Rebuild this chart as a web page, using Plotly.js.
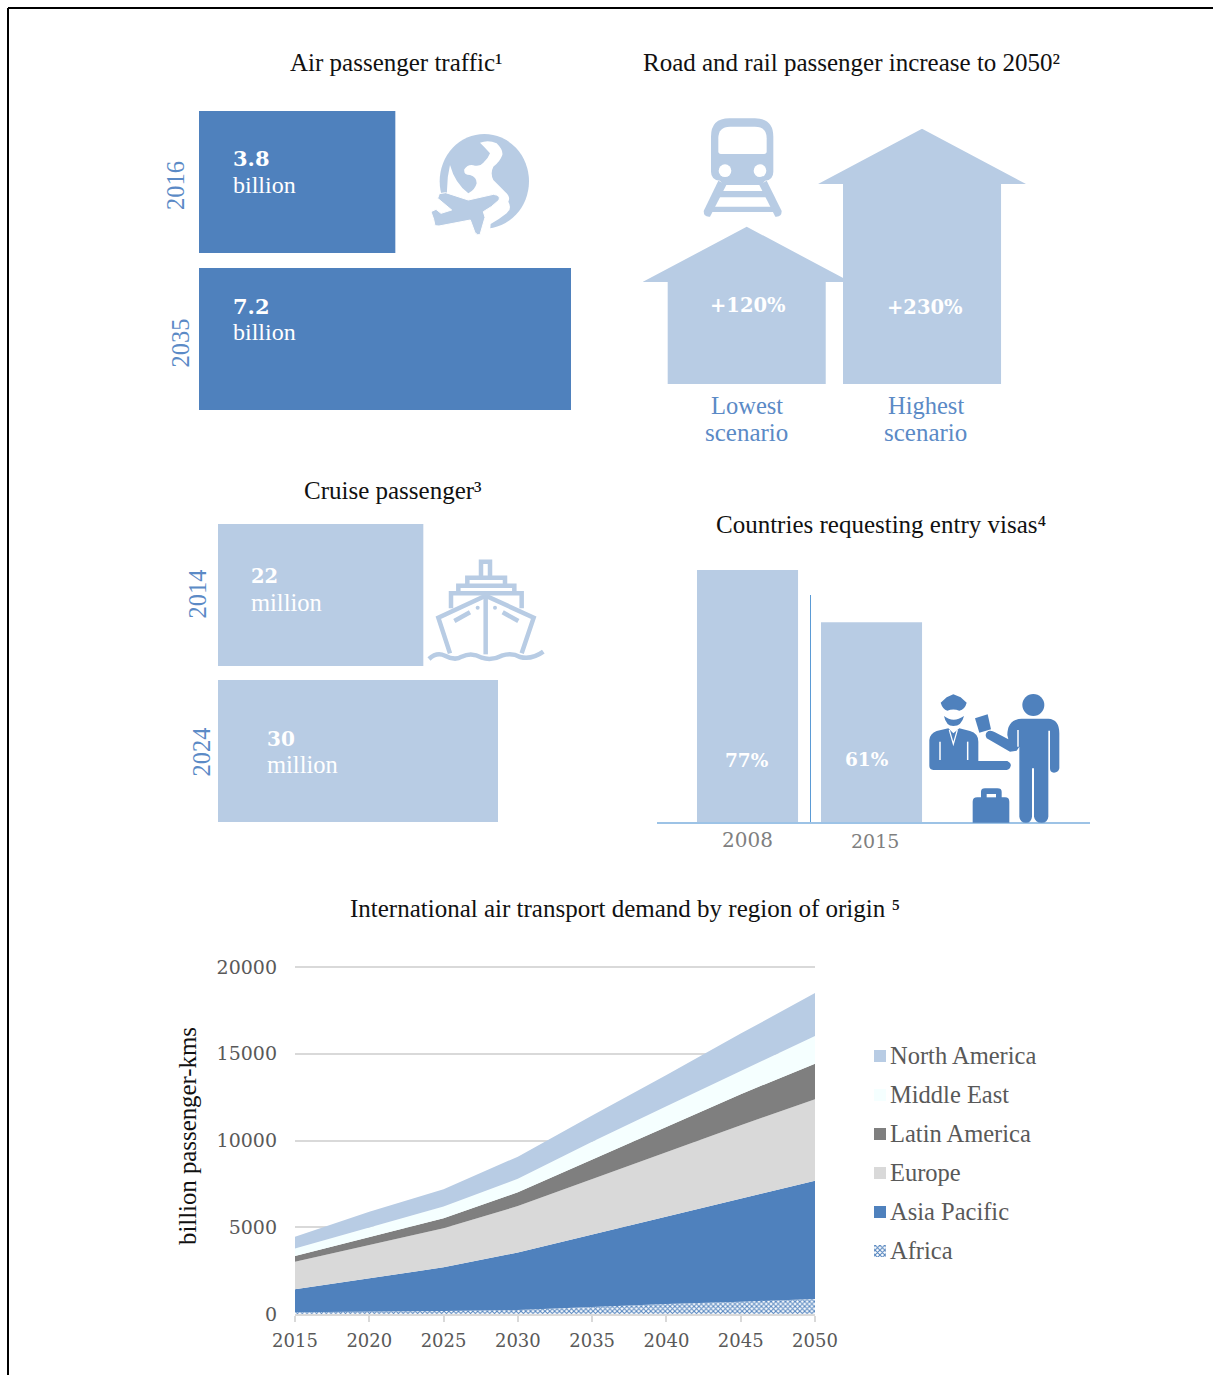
<!DOCTYPE html>
<html>
<head>
<meta charset="utf-8">
<title>Passenger transport outlook</title>
<script src="https://cdn.plot.ly/plotly-3.0.1.min.js"></script>
<style>html,body{margin:0;padding:0;background:#fff}</style>
</head>
<body>
<div id="chart" style="width:1213px;height:1375px"></div>
<script>
// ---- data ----
const airYears = ['2016', '2035'];
const airBillions = [3.8, 7.2];
const railScenarios = ['Lowest', 'Highest'];
const railIncrease = [120, 230];
const cruiseYears = ['2014', '2024'];
const cruiseMillions = [22, 30];
const visaYears = ['2008', '2015'];
const visaShare = [77, 61];
const demandYears = [2015, 2020, 2025, 2030, 2035, 2040, 2045, 2050];
const africa      = [100, 120, 170, 230, 420, 580, 710, 860];
const asiaPacific = [1320, 1915, 2520, 3320, 4170, 5030, 5930, 6820];
const europe      = [1590, 1960, 2250, 2670, 3190, 3740, 4240, 4700];
const latinAmerica = [330, 420, 580, 790, 1130, 1440, 1790, 2050];
const middleEast  = [440, 560, 670, 790, 1020, 1190, 1340, 1590];
const northAmerica = [670, 920, 1000, 1270, 1510, 1790, 2150, 2480];

// ---- palette and type ----
const W = 1213, H = 1375;
const BLUE = '#4f81bd', PALE = '#b8cce4', MINT = '#f5ffff', DARKGREY = '#7f7f7f', LIGHTGREY = '#d9d9d9';
const TEXT = '#595959', LABEL_BLUE = '#5b8ac6';
const SERIF = '"Liberation Serif", serif';
const NUM = '"DejaVu Serif", serif';

const domX = (a, b) => [a / W, b / W];
const domY = (top, bottom) => [1 - bottom / H, 1 - top / H];

const hiddenAxis = (domain, range, anchor, extra) => Object.assign({
  domain, range, anchor, visible: false, fixedrange: true
}, extra || {});

// ---- text helpers ----
const annotations = [];
function label(text, x, y, size, color, opts) {
  annotations.push(Object.assign({
    xref: 'x9', yref: 'y9', x, y, text, showarrow: false,
    xanchor: 'center', yanchor: 'middle',
    font: { family: SERIF, size, color }
  }, opts || {}));
}
const number = (text, x, y, size, opts) =>
  label('<b>' + text + '</b>', x, y, size, '#ffffff',
    Object.assign({ font: { family: NUM, size, color: '#ffffff' } }, opts || {}));
const years = (text, x, y) => label(text, x, y, 24.5, LABEL_BLUE, { textangle: -90 });

// ---- pictogram helpers: paths are drawn in a local grid and placed on the page grid ----
const shapes = [];
const at = (d, ox, oy) => d.replace(/(-?[\d.]+),(-?[\d.]+)/g,
  (_, x, y) => (ox + x / 3).toFixed(2) + ',' + (oy + y / 3).toFixed(2));
function fillPath(d, ox, oy, color, lineColor, lineWidth) {
  shapes.push({ type: 'path', xref: 'x9', yref: 'y9', path: at(d, ox, oy), fillcolor: color,
    line: { color: lineColor || color, width: lineWidth === undefined ? 0 : lineWidth } });
}
function strokePath(d, ox, oy, color, width) {
  shapes.push({ type: 'path', xref: 'x9', yref: 'y9', path: at(d, ox, oy),
    fillcolor: 'rgba(0,0,0,0)', line: { color, width } });
}
function disc(cx, cy, rx, ry, ox, oy, color) {
  shapes.push({ type: 'circle', xref: 'x9', yref: 'y9', fillcolor: color, line: { width: 0 },
    x0: ox + (cx - rx) / 3, x1: ox + (cx + rx) / 3, y0: oy + (cy - ry) / 3, y1: oy + (cy + ry) / 3 });
}

function drawGlobe(ox, oy) {
  disc(178, 154, 134, 142, ox, oy, PALE);
  fillPath('M165,38 Q190,28 215,40 Q235,60 232,75 Q225,95 205,110 Q195,130 205,150 Q225,170 240,185 Q258,200 250,215 Q262,235 245,250 Q220,270 197,282 L195,305 L20,305 L20,195 L66,190 Q65,145 75,105 Q90,160 130,190 Q150,180 155,160 Q155,140 135,135 Q115,135 118,118 Q130,100 150,107 Q165,110 175,98 Q190,85 195,70 Q178,50 165,38 Z', ox, oy, '#ffffff');
  fillPath('M18,245 L33,238 L48,250 L80,240 L38,205 L43,191 L62,188 L130,210 L205,193 Q228,196 222,210 Q200,232 175,245 L180,262 L165,314 Q158,317 150,308 L136,270 L42,288 L30,287 L26,268 Z', ox, oy, PALE, '#ffffff', 1);
}

function drawTrain(ox, oy) {
  fillPath('M48,80 Q48,25 103,25 L180,25 Q235,25 235,80 L235,185 Q235,210 210,212 L200,225 L85,225 L75,212 Q48,210 48,185 Z', ox, oy, PALE);
  fillPath('M70,85 Q70,50 105,50 L180,50 Q215,50 215,85 L215,124 Q215,132 207,132 L78,132 Q70,132 70,124 Z', ox, oy, '#ffffff');
  disc(90, 182, 19, 19, ox, oy, '#ffffff');
  disc(195, 182, 19, 19, ox, oy, '#ffffff');
  fillPath('M70,212 L26,303 Q26,322 45,320 L94,225 Z', ox, oy, PALE);
  fillPath('M215,212 L260,303 Q260,322 241,320 L193,225 Z', ox, oy, PALE);
  fillPath('M75,243 L210,243 L218,262 L65,262 Z', ox, oy, PALE);
  fillPath('M50,290 L235,290 L242,306 L43,306 Z', ox, oy, PALE);
}

function drawShip(ox, oy) {
  const w = 4.5;
  ['M168,68 L168,20 L195,20 L195,68',
   'M127,90 L127,68 L240,68 L240,90',
   'M100,115 L100,92 L268,92 L268,115',
   'M78,160 L78,115 L290,115 L290,160',
   'M75,295 L40,188 L182,122 L326,188 L290,295',
   'M182,122 L182,298',
   'M88,198 L135,172',
   'M280,198 L233,172',
   'M12,312 Q35,290 60,302 Q90,318 110,305 Q140,290 170,308 Q200,318 230,302 Q260,292 285,306 Q320,315 355,290'
  ].forEach(d => strokePath(d, ox, oy, PALE, w));
  disc(158, 158, 6, 6, ox, oy, PALE);
  disc(210, 158, 6, 6, ox, oy, PALE);
}

function drawBorderCheck(ox, oy) {
  // officer
  fillPath('M62,68 L80,52 L100,43 L122,52 L140,68 Q135,88 118,92 Q100,85 82,92 Q68,88 62,68 Z', ox, oy, BLUE);
  fillPath('M72,108 Q100,130 132,108 Q125,138 100,138 Q78,138 72,108 Z', ox, oy, BLUE);
  fillPath('M28,240 L28,180 Q30,160 50,153 L85,145 L100,160 L118,145 L150,153 Q175,160 175,185 L175,243 L262,243 Q275,250 272,258 Q270,268 260,270 L40,270 Q28,268 28,258 Z', ox, oy, BLUE);
  strokePath('M60,185 L60,240', ox, oy, '#ffffff', 1.5);
  strokePath('M143,185 L143,240', ox, oy, '#ffffff', 1.5);
  strokePath('M88,150 L100,192 L112,150', ox, oy, '#ffffff', 1.2);
  // document
  fillPath('M165,115 L203,103 L213,148 L178,158 Z', ox, oy, BLUE);
  // traveller
  disc(340, 75, 33, 33, ox, oy, BLUE);
  fillPath('M262,165 Q262,118 305,116 L385,116 Q418,118 418,160 L418,265 Q415,278 402,278 Q390,278 390,265 L390,152 L385,152 L385,410 Q383,428 365,428 Q345,428 342,410 L342,265 L336,265 L336,410 Q334,428 318,428 Q300,428 298,410 L298,200 L290,212 L270,215 L200,175 Q192,160 205,153 Q215,150 225,157 L265,178 Z', ox, oy, BLUE);
  strokePath('M294,150 L294,200', ox, oy, '#ffffff', 1.5);
  // suitcase
  fillPath('M158,365 Q158,352 172,352 L183,352 L183,335 Q183,325 195,325 L232,325 Q245,325 245,335 L245,352 L255,352 Q268,352 268,365 L268,428 L158,428 Z', ox, oy, BLUE);
  fillPath('M200,342 L228,342 L228,352 L200,352 Z', ox, oy, '#ffffff');
}

// ---- traces ----
const traces = [];

// Air passenger traffic
traces.push({ type: 'bar', orientation: 'h', y: airYears, x: airBillions, width: 0.904,
  marker: { color: BLUE }, xaxis: 'x', yaxis: 'y', hoverinfo: 'x+y' });
// Cruise passengers
traces.push({ type: 'bar', orientation: 'h', y: cruiseYears, x: cruiseMillions, width: 0.91,
  marker: { color: PALE }, xaxis: 'x3', yaxis: 'y3', hoverinfo: 'x+y' });
// Countries requesting entry visas
traces.push({ type: 'bar', x: visaYears, y: visaShare, width: 0.815,
  marker: { color: PALE }, xaxis: 'x4', yaxis: 'y4', hoverinfo: 'x+y' });

// Road and rail scenarios: each house peaks at its stated increase
const ROOF = 62, BODY = 0.4507, EAVE = 0.593, RAIL_BASE = -56.5;
railIncrease.forEach((v, i) => {
  const l = i - BODY, r = i + BODY;
  traces.push({
    type: 'scatter', mode: 'lines', fill: 'toself', fillcolor: PALE, line: { width: 0 },
    x: [l, l, i - EAVE, i, i + EAVE, r, r, l],
    y: [RAIL_BASE, v - ROOF, v - ROOF, v, v - ROOF, v - ROOF, RAIL_BASE, RAIL_BASE],
    xaxis: 'x2', yaxis: 'y2', hoverinfo: 'skip'
  });
});

// International air transport demand, stacked from the bottom up
const demandSeries = [
  { name: 'Africa', y: africa, color: BLUE, pattern: true },
  { name: 'Asia Pacific', y: asiaPacific, color: BLUE },
  { name: 'Europe', y: europe, color: LIGHTGREY },
  { name: 'Latin America', y: latinAmerica, color: DARKGREY },
  { name: 'Middle East', y: middleEast, color: MINT },
  { name: 'North America', y: northAmerica, color: PALE }
];
const checker = { shape: 'x', fgcolor: '#4f81bd', bgcolor: '#ffffff', size: 3.4, solidity: 0.5 };
demandSeries.forEach(s => {
  const t = { type: 'scatter', mode: 'lines', name: s.name, x: demandYears, y: s.y,
    stackgroup: 'demand', line: { width: 0, color: s.color }, fillcolor: s.color,
    xaxis: 'x5', yaxis: 'y5' };
  if (s.pattern) t.fillpattern = checker;
  traces.push(t);
});

// Key for the demand chart, listed top-down
demandSeries.slice().reverse().forEach((s, i) => {
  const cy = 1056 + i * 39;
  const t = { type: 'scatter', mode: 'lines', fill: 'toself', fillcolor: s.color, line: { width: 0 },
    x: [874, 886, 886, 874, 874], y: [cy - 6, cy - 6, cy + 6, cy + 6, cy - 6],
    xaxis: 'x9', yaxis: 'y9', hoverinfo: 'skip' };
  if (s.pattern) t.fillpattern = checker;
  traces.push(t);
  label(s.name, 887.5, cy - 1, 24.5, TEXT, { xanchor: 'left' });
});

// ---- panel text ----
const TITLE = 25;
label('Air passenger traffic¹', 396, 62, TITLE, '#111111');
label('Road and rail passenger increase to 2050²', 851.5, 62, TITLE, '#111111');
label('Cruise passenger³', 393, 490, TITLE, '#111111');
label('Countries requesting entry visas⁴', 880.5, 524, TITLE, '#111111');
label('International air transport demand by region of origin ⁵', 625, 908, TITLE, '#111111');
label('billion passenger-kms', 187, 1136, 24.8, '#111111', { textangle: -90 });

years(airYears[0], 175, 186);
years(airYears[1], 179.5, 343);
number(String(airBillions[0]), 230.5, 158, 21, { xanchor: 'left' });
label('billion', 230.5, 185, 24, '#ffffff', { xanchor: 'left' });
number(String(airBillions[1]), 230.5, 306, 21, { xanchor: 'left' });
label('billion', 230.5, 332, 24, '#ffffff', { xanchor: 'left' });

number('+' + railIncrease[0] + '%', 748, 305, 19.5);
number('+' + railIncrease[1] + '%', 925, 307, 19.5);
label(railScenarios[0], 747, 405, 24.5, LABEL_BLUE);
label('scenario', 746.5, 432, 25, LABEL_BLUE);
label(railScenarios[1], 926, 405, 24.5, LABEL_BLUE);
label('scenario', 925.5, 432, 25, LABEL_BLUE);

years(cruiseYears[0], 196.5, 594);
years(cruiseYears[1], 200.5, 752);
number(String(cruiseMillions[0]), 248.5, 576, 19.5, { xanchor: 'left' });
label('million', 248.5, 602, 24.5, '#ffffff', { xanchor: 'left' });
number(String(cruiseMillions[1]), 264.5, 739, 20, { xanchor: 'left' });
label('million', 264.5, 764, 24.5, '#ffffff', { xanchor: 'left' });

number(visaShare[0] + '%', 747, 760, 18.5);
number(visaShare[1] + '%', 867, 759, 18.5);
label(visaYears[0], 747, 840, 20, DARKGREY, { font: { family: NUM, size: 20, color: DARKGREY } });
label(visaYears[1], 875, 841, 19, DARKGREY, { font: { family: NUM, size: 19, color: DARKGREY } });

// ---- pictograms ----
drawGlobe(425, 130);
drawTrain(695, 110);
drawShip(425, 555);
drawBorderCheck(920, 680);

// Page frame and visa chart divider
[[8, 8, W, 8], [8, 8, 8, H]].forEach(p => shapes.push({ type: 'line', xref: 'x9', yref: 'y9',
  x0: p[0], y0: p[1], x1: p[2], y1: p[3], line: { color: '#000000', width: 2 } }));
shapes.push({ type: 'line', xref: 'x9', yref: 'y9', x0: 810.5, x1: 810.5, y0: 595, y1: 822,
  line: { color: '#5b9bd5', width: 1 } });

// ---- layout ----
const layout = {
  width: W, height: H, margin: { l: 0, r: 0, t: 0, b: 0 },
  paper_bgcolor: '#ffffff', plot_bgcolor: 'rgba(0,0,0,0)',
  showlegend: false, hovermode: 'closest',
  font: { family: SERIF, color: TEXT },
  shapes, annotations,

  xaxis: hiddenAxis(domX(199, 571), [0, 7.2], 'y'),
  yaxis: hiddenAxis(domY(103.5, 417.5), [1.5, -0.5], 'x', { type: 'category' }),

  xaxis2: hiddenAxis(domX(643, 1026), [-0.5915, 1.593], 'y2'),
  yaxis2: hiddenAxis(domY(128.7, 384), [RAIL_BASE, 230], 'x2'),

  xaxis3: hiddenAxis(domX(218, 498), [0, 30], 'y3'),
  yaxis3: hiddenAxis(domY(517, 829), [1.5, -0.5], 'x3', { type: 'category' }),

  xaxis4: {
    domain: domX(657, 1090), range: [-0.73, 2.762], anchor: 'y4', type: 'category',
    showline: true, linecolor: '#9dc3e6', linewidth: 1.5, showticklabels: false, ticks: '',
    showgrid: false, zeroline: false, fixedrange: true
  },
  yaxis4: hiddenAxis(domY(570, 822), [0, 77], 'x4'),

  xaxis5: {
    domain: domX(295, 815), range: [2015, 2050], anchor: 'y5', tickmode: 'array',
    tickvals: demandYears, ticktext: demandYears.map(String), ticks: 'outside', ticklen: 6,
    tickcolor: LIGHTGREY, tickwidth: 1.5, ticklabelstandoff: 4,
    tickfont: { family: NUM, size: 18, color: TEXT },
    showline: true, linecolor: LIGHTGREY, linewidth: 1.5, showgrid: false, zeroline: false,
    fixedrange: true
  },
  yaxis5: {
    domain: domY(965, 1314), range: [0, 20115], anchor: 'x5', tickmode: 'array',
    tickvals: [0, 5000, 10000, 15000, 20000], ticktext: ['0', '5000', '10000', '15000', '20000'],
    ticks: '', ticklabelstandoff: 17,
    tickfont: { family: NUM, size: 19, color: TEXT },
    gridcolor: LIGHTGREY, gridwidth: 1.5, zeroline: false, showline: false,
    fixedrange: true
  },

  xaxis9: hiddenAxis([0, 1], [0, W], 'y9'),
  yaxis9: hiddenAxis([0, 1], [H, 0], 'x9')
};

Plotly.newPlot('chart', traces, layout, { displayModeBar: false, responsive: false });
</script>
</body>
</html>
